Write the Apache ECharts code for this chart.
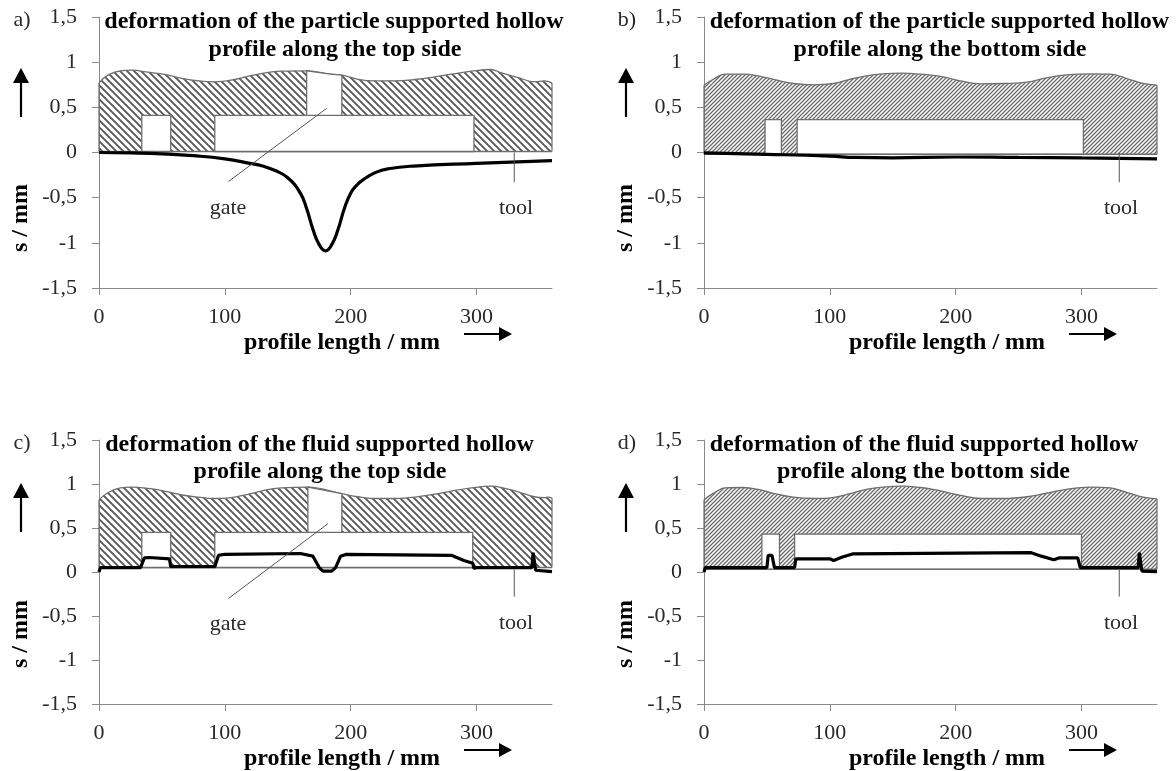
<!DOCTYPE html>
<html><head><meta charset="utf-8">
<style>html,body{margin:0;padding:0;background:#fff}#c{width:1176px;height:771px}</style>
<script src="https://cdn.jsdelivr.net/npm/echarts@6/dist/echarts.min.js"></script>
</head><body><div id="c"></div>
<script>
const panelLetters = ['a)','b)','c)','d)'];
const titlesLine1 = ['deformation of the particle supported hollow','deformation of the particle supported hollow','deformation of the fluid supported hollow','deformation of the fluid supported hollow'];
const titlesLine2 = ['profile along the top side','profile along the bottom side','profile along the top side','profile along the bottom side'];
const xTicks = [0,100,200,300];
const xLabelName = 'profile length / mm';
const yLabelName = 's / mm';

const outlineA = [[0,.77],[7,.856],[17,.904],[26,.911],[39,.889],[52,.864],[66,.82],[79,.793],[92,.782],[105,.80],[119,.845],[132,.882],[145,.90],[165,.904],[184,.867],[193,.856],[206,.81],[219,.793],[235,.793],[251,.808],[267,.837],[280,.867],[296,.90],[311,.919],[320,.882],[333,.83],[346,.782],[354,.793],[360,.77]];
const outlineB = [[0,.745],[7,.808],[17,.867],[31,.867],[44,.845],[58,.80],[71,.764],[87,.749],[103,.764],[116,.81],[129,.848],[142,.87],[158,.878],[172,.867],[182,.853],[190,.837],[204,.793],[220,.76],[238,.764],[257,.778],[272,.826],[288,.859],[307,.87],[323,.867],[336,.819],[349,.764],[360,.745]];
const outlineC = [[0,.82],[7,.90],[17,.955],[26,.965],[39,.95],[52,.92],[66,.875],[79,.85],[92,.835],[105,.845],[119,.885],[132,.93],[145,.955],[166,.965],[193,.89],[206,.855],[220,.835],[235,.835],[251,.85],[267,.885],[280,.92],[296,.955],[311,.975],[320,.96],[333,.91],[346,.855],[354,.845],[357,.85],[360,.84]];
const outlineD = [[0,.82],[7,.89],[17,.955],[31,.96],[44,.935],[58,.885],[71,.85],[87,.835],[102,.845],[116,.89],[129,.94],[142,.965],[158,.975],[172,.96],[182,.94],[190,.915],[204,.87],[220,.835],[238,.835],[257,.855],[272,.895],[288,.94],[307,.965],[323,.955],[336,.905],[349,.85],[360,.83]];

const baseA = .01, baseB = -.02, baseC = .05, baseD = .03;
const holesA = [[34,57,.41],[92,298,.41]];
const holesB = [[48.5,61.5,.365],[74,301.5,.365]];
const holesC = [[34,57,.45],[92,297,.45]];
const holesD = [[46,60,.43],[72,300,.43]];
const gateA = [[165,.41],[193,.41],[193,.856],[184,.867],[165,.904]];
const gateC = [[166,.45],[193,.45],[193,.89],[166,.965]];

const curveA = [[0,0],[25,-.005],[50,-.015],[75,-.035],[100,-.07],[120,-.12],[130,-.15],[140,-.2],[150,-.28],[160,-.45],[165,-.62],[170,-.85],[175,-1.02],[180,-1.09],[185,-1.02],[190,-.85],[195,-.62],[200,-.45],[205,-.36],[210,-.3],[220,-.22],[230,-.18],[250,-.15],[300,-.12],[360,-.09]];
const curveB = [[0,-.005],[50,-.02],[100,-.04],[120,-.055],[150,-.06],[200,-.05],[250,-.055],[300,-.06],[360,-.07]];
const curveC = [[0,0],[1,.05],[33,.05],[36,.16],[40,.165],[56,.15],[57,.06],[92,.06],[95,.19],[100,.2],[160,.21],[170,.18],[175,.05],[178,.01],[185,.01],[188,.05],[192,.18],[196,.2],[280,.19],[290,.13],[297,.1],[298,.04],[300,.05],[344,.05],[345,.22],[347,.02],[360,.005]];
const curveD = [[0,0],[1,.05],[50,.05],[51,.19],[54,.19],[56,.05],[72,.05],[73,.15],[100,.15],[103,.13],[110,.17],[118,.205],[260,.22],[268,.18],[278,.14],[282,.16],[297,.16],[299,.05],[345,.05],[346,.22],[348,.01],[360,.005]];

const gateLeaderA = [[103,-.32],[181,.49]];
const gateLeaderC = [[103,-.3],[182,.55]];
const toolLeaderTop = [[330,0],[330,-.33]];
const toolLeaderBottom = [[330,.03],[330,-.28]];

const panels = [
 {outline:outlineA, base:baseA, holes:holesA, gate:gateA, curve:curveA, gateLine:gateLeaderA, toolLine:toolLeaderTop, hatch:'back', smooth:.5, left:99, top:17, h:271, t1:235, t2:236, ty1:22, ty2:50, arrowTop:68, lx:22, tx:516},
 {outline:outlineB, base:baseB, holes:holesB, gate:null, curve:curveB, gateLine:null, toolLine:toolLeaderTop, hatch:'fwd', smooth:.5, left:704, top:17, h:271, t1:235.5, t2:236, ty1:22, ty2:50, arrowTop:68, lx:627, tx:1121},
 {outline:outlineC, base:baseC, holes:holesC, gate:gateC, curve:curveC, gateLine:gateLeaderC, toolLine:toolLeaderBottom, hatch:'back', smooth:0, left:99, top:440, h:264, t1:220.5, t2:221, ty1:445, ty2:472, arrowTop:483, lx:22, tx:516},
 {outline:outlineD, base:baseD, holes:holesD, gate:null, curve:curveD, gateLine:null, toolLine:toolLeaderBottom, hatch:'fwd', smooth:0, left:704, top:440, h:264, t1:220, t2:219.5, ty1:445, ty2:472, arrowTop:483, lx:627, tx:1121}
];
const W = 453;

function hatch(kind){
  const s = kind==='back'?7:4;
  const c = document.createElement('canvas'); c.width=s; c.height=s;
  const g = c.getContext('2d');
  g.strokeStyle = kind==='back'?'#555':'#6a6a6a'; g.lineWidth = kind==='back'?1.8:1.3;
  g.beginPath();
  if(kind==='back'){ g.moveTo(-1,-1); g.lineTo(s+1,s+1); g.moveTo(-1,s-1); g.lineTo(1,s+1); g.moveTo(s-1,-1); g.lineTo(s+1,1);}
  else { g.moveTo(-1,s+1); g.lineTo(s+1,-1); g.moveTo(-1,1); g.lineTo(1,-1); g.moveTo(s-1,s+1); g.lineTo(s+1,s-1);}
  g.stroke();
  return c;
}

const serif = '"Liberation Serif","Times New Roman",serif';
const axisGrey = '#8a8a8a', edge = '#6e6e6e', ink = '#2a2a2a';
const grid=[],xAxis=[],yAxis=[],series=[],graphic=[];

function polySeries(i,pts,style,z){
  return {type:'custom',xAxisIndex:i,yAxisIndex:i,coordinateSystem:'cartesian2d',z:z,silent:true,clip:false,
    encode:{x:0,y:1},data:pts,
    renderItem:(p,api)=>{
      if(p.dataIndex!==0) return;
      return {type:'polygon',shape:{points:pts.map(q=>api.coord(q))},style:style};
    }};
}

panels.forEach((P,i)=>{
  grid.push({left:P.left,top:P.top,width:W,height:P.h});
  xAxis.push({type:'value',gridIndex:i,min:0,max:360,interval:100,
    axisLine:{onZero:false,lineStyle:{color:axisGrey,width:1}},splitLine:{show:false},
    axisTick:{show:true,customValues:xTicks,length:7,lineStyle:{color:axisGrey}},
    axisLabel:{customValues:xTicks,margin:18,fontFamily:serif,fontSize:22,color:ink}});
  yAxis.push({type:'value',gridIndex:i,min:-1.5,max:1.5,interval:.5,
    axisLine:{show:true,onZero:false,lineStyle:{color:axisGrey,width:1}},splitLine:{show:false},
    axisTick:{show:true,length:7,lineStyle:{color:axisGrey}},
    axisLabel:{margin:22,fontFamily:serif,fontSize:22,color:ink,padding:[6,0,0,0],formatter:v=>String(v).replace('.',',')}});
  series.push({type:'line',xAxisIndex:i,yAxisIndex:i,data:P.outline,smooth:.4,symbol:'none',z:2,silent:true,
    lineStyle:{color:edge,width:1.3},
    areaStyle:{origin:P.base,opacity:1,color:{image:hatch(P.hatch),repeat:'repeat'}}});
  series.push({type:'line',xAxisIndex:i,yAxisIndex:i,data:[[0,P.base],[0,P.outline[0][1]]],symbol:'none',z:3,silent:true,lineStyle:{color:edge,width:1.2}});
  series.push({type:'line',xAxisIndex:i,yAxisIndex:i,data:[[360,P.base],[360,P.outline[P.outline.length-1][1]]],symbol:'none',z:3,silent:true,lineStyle:{color:edge,width:1.2}});
  series.push({type:'line',xAxisIndex:i,yAxisIndex:i,data:[[0,P.base],[360,P.base]],symbol:'none',z:4,silent:true,lineStyle:{color:edge,width:1.5}});
  P.holes.forEach(h=>{
    series.push(polySeries(i,[[h[0],P.base],[h[1],P.base],[h[1],h[2]],[h[0],h[2]]],{fill:'#fff',stroke:edge,lineWidth:1.3},3));
  });
  if(P.gate) series.push(polySeries(i,P.gate,{fill:'#fff',stroke:edge,lineWidth:1.3},3));
  series.push({type:'line',xAxisIndex:i,yAxisIndex:i,data:P.curve,smooth:P.smooth,symbol:'none',z:6,silent:true,lineStyle:{color:'#000',width:3.2}});
  if(P.gateLine) series.push({type:'line',xAxisIndex:i,yAxisIndex:i,data:P.gateLine,symbol:'none',z:7,silent:true,lineStyle:{color:'#555',width:1}});
  series.push({type:'line',xAxisIndex:i,yAxisIndex:i,data:P.toolLine,symbol:'none',z:7,silent:true,lineStyle:{color:'#555',width:1}});

  const x0=P.left,y0=P.top,yb=P.top+P.h,ym=y0+P.h/2;
  const txt=(t,x,y,o={})=>graphic.push({type:'text',x,y,z:20,style:Object.assign({text:t,fontFamily:serif,fontSize:22,fill:ink,textAlign:'center',textVerticalAlign:'middle'},o)});
  txt(panelLetters[i],P.lx,y0+3);
  txt(titlesLine1[i],x0+P.t1,P.ty1,{fontWeight:'bold',fontSize:24,fill:'#000'});
  txt(titlesLine2[i],x0+P.t2,P.ty2,{fontWeight:'bold',fontSize:24,fill:'#000'});
  txt(xLabelName,x0+243,yb+55,{fontWeight:'bold',fontSize:24,fill:'#000'});
  graphic.push({type:'text',x:x0-78,y:i<2?y0+201:y0+194,rotation:Math.PI/2,z:20,style:{text:yLabelName,fontFamily:serif,fontSize:24,fontWeight:'bold',fill:'#000',textAlign:'center',textVerticalAlign:'middle'}});
  if(P.gateLine) txt('gate',x0+129,ym+(i<2?56:52));
  txt('tool',P.tx,ym+(i<2?56:51));
  const arrow=(pts)=>graphic.push({type:'polygon',z:20,shape:{points:pts},style:{fill:'#000'}});
  const ax=x0-78,ayTop=P.arrowTop;
  graphic.push({type:'line',z:20,shape:{x1:ax,y1:ayTop+10,x2:ax,y2:ayTop+49},style:{stroke:'#000',lineWidth:2.2}});
  arrow([[ax-8,ayTop+15],[ax+8,ayTop+15],[ax,ayTop]]);
  const hx=x0+365,hy=yb+46;
  graphic.push({type:'line',z:20,shape:{x1:hx,y1:hy,x2:hx+38,y2:hy},style:{stroke:'#000',lineWidth:2.2}});
  arrow([[hx+35,hy-7],[hx+35,hy+7],[hx+48,hy]]);
});

const chart = echarts.init(document.getElementById('c'),null,{renderer:'canvas'});
chart.setOption({animation:false,backgroundColor:'#fff',grid,xAxis,yAxis,series,graphic});
</script></body></html>
